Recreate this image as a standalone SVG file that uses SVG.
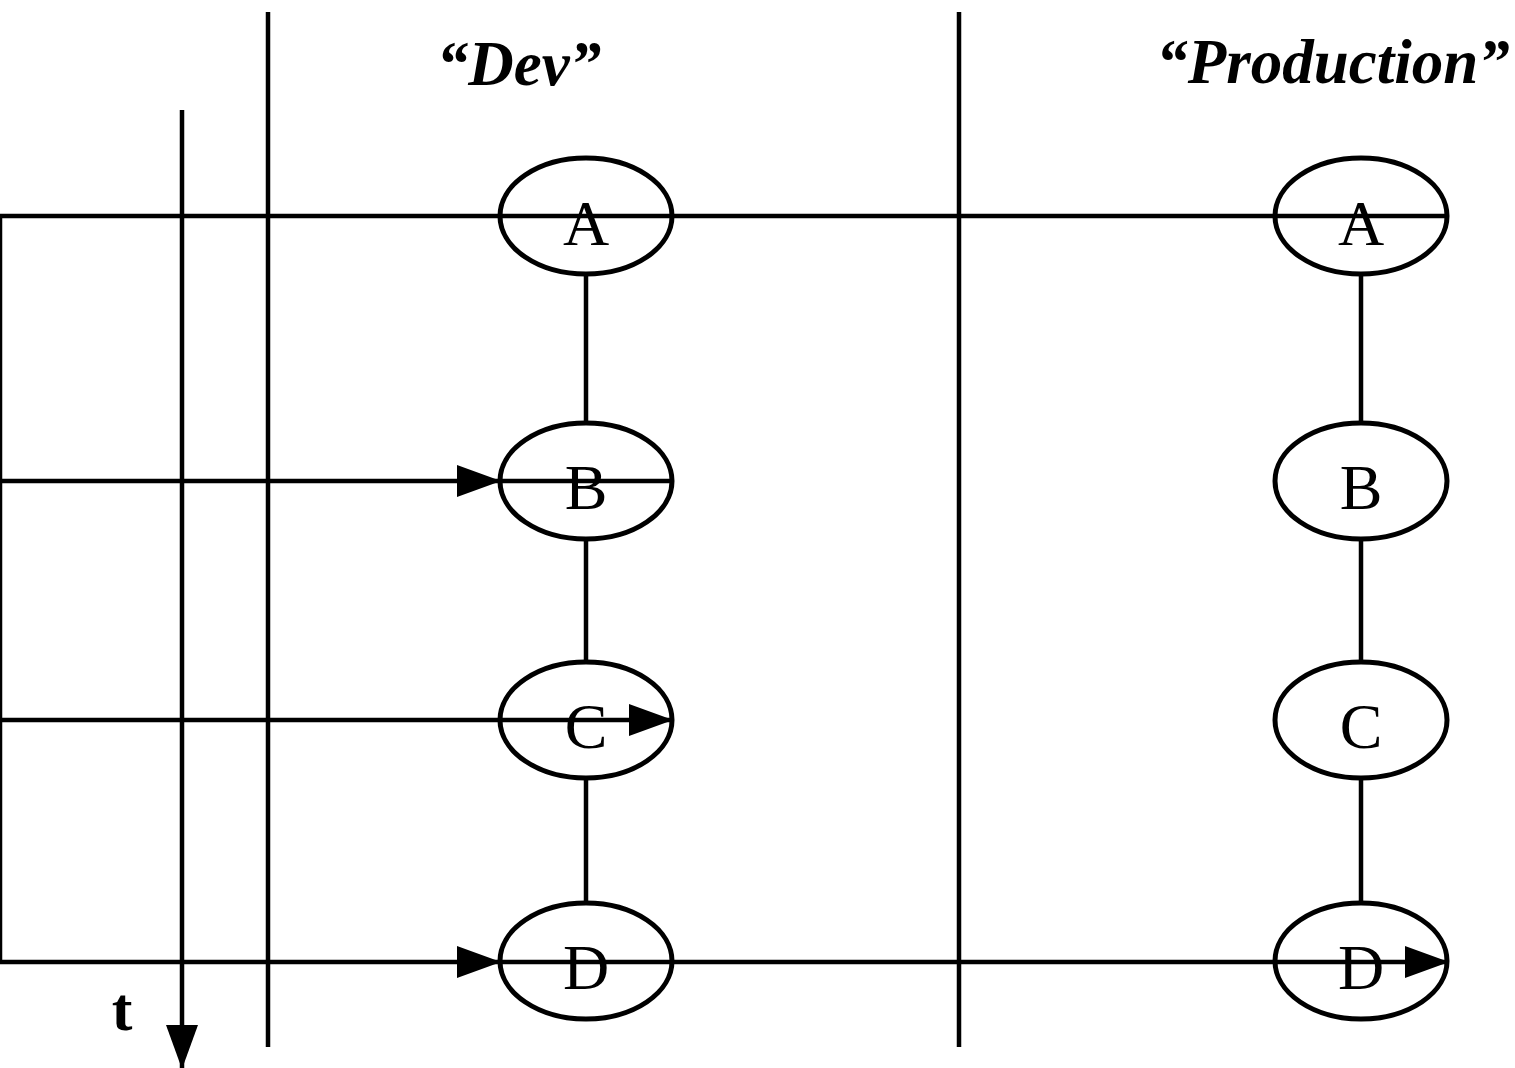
<svg xmlns="http://www.w3.org/2000/svg" width="1515" height="1068" viewBox="0 0 1515 1068">
<style>
.ln{stroke:#000;stroke-width:4.5;fill:none}
.el{stroke:#000;stroke-width:5;fill:none}
.lbl{font-family:"Liberation Serif","Times New Roman",serif;font-size:64px;text-anchor:middle;fill:#000}
.ttl{font-family:"Liberation Serif","Times New Roman",serif;font-size:63px;font-weight:bold;font-style:italic;text-anchor:middle;fill:#000}
</style>
<defs>
<marker id="ah" markerUnits="userSpaceOnUse" markerWidth="44" markerHeight="32" refX="43" refY="16" orient="auto" viewBox="0 0 44 32">
<path d="M0,0 L44,16 L0,32 Z" fill="#000"/>
</marker>
</defs>
<g id="titles">
<text class="ttl" x="519" y="85">“Dev”</text>
<text class="ttl" x="1333" y="83">“Production”</text>
<text x="122" y="1030" style="font-family:'Liberation Serif',serif;font-size:62px;font-weight:bold;text-anchor:middle">t</text>
</g>
<g id="connectors">
<line class="ln" x1="268" y1="12" x2="268" y2="1047"/>
<line class="ln" x1="959" y1="12" x2="959" y2="1047"/>
<line class="ln" x1="182" y1="110" x2="182" y2="1068" marker-end="url(#ah)"/>
<polyline class="ln" points="1448,216 0,216 0,962 500,962" marker-end="url(#ah)"/>
<line class="ln" x1="500" y1="962" x2="1448" y2="962" marker-end="url(#ah)"/>
<line class="ln" x1="0" y1="481" x2="500" y2="481" marker-end="url(#ah)"/>
<line class="ln" x1="500" y1="481" x2="674" y2="481"/>
<line class="ln" x1="0" y1="720" x2="672" y2="720" marker-end="url(#ah)"/>
<line class="ln" x1="586" y1="274" x2="586" y2="423"/>
<line class="ln" x1="586" y1="540" x2="586" y2="662"/>
<line class="ln" x1="586" y1="778" x2="586" y2="902"/>
<line class="ln" x1="1361" y1="274" x2="1361" y2="423"/>
<line class="ln" x1="1361" y1="540" x2="1361" y2="662"/>
<line class="ln" x1="1361" y1="778" x2="1361" y2="902"/>
</g>
<g id="devA"><ellipse class="el" cx="586" cy="216" rx="86" ry="58"/><text class="lbl" x="586" y="245">A</text></g>
<g id="devB"><ellipse class="el" cx="586" cy="481" rx="86" ry="58"/><text class="lbl" x="586" y="509">B</text></g>
<g id="devC"><ellipse class="el" cx="586" cy="720" rx="86" ry="58"/><text class="lbl" x="586" y="748">C</text></g>
<g id="devD"><ellipse class="el" cx="586" cy="961" rx="86" ry="58"/><text class="lbl" x="586" y="989">D</text></g>
<g id="prodA"><ellipse class="el" cx="1361" cy="216" rx="86" ry="58"/><text class="lbl" x="1361" y="245">A</text></g>
<g id="prodB"><ellipse class="el" cx="1361" cy="481" rx="86" ry="58"/><text class="lbl" x="1361" y="509">B</text></g>
<g id="prodC"><ellipse class="el" cx="1361" cy="720" rx="86" ry="58"/><text class="lbl" x="1361" y="748">C</text></g>
<g id="prodD"><ellipse class="el" cx="1361" cy="961" rx="86" ry="58"/><text class="lbl" x="1361" y="989">D</text></g>
</svg>
